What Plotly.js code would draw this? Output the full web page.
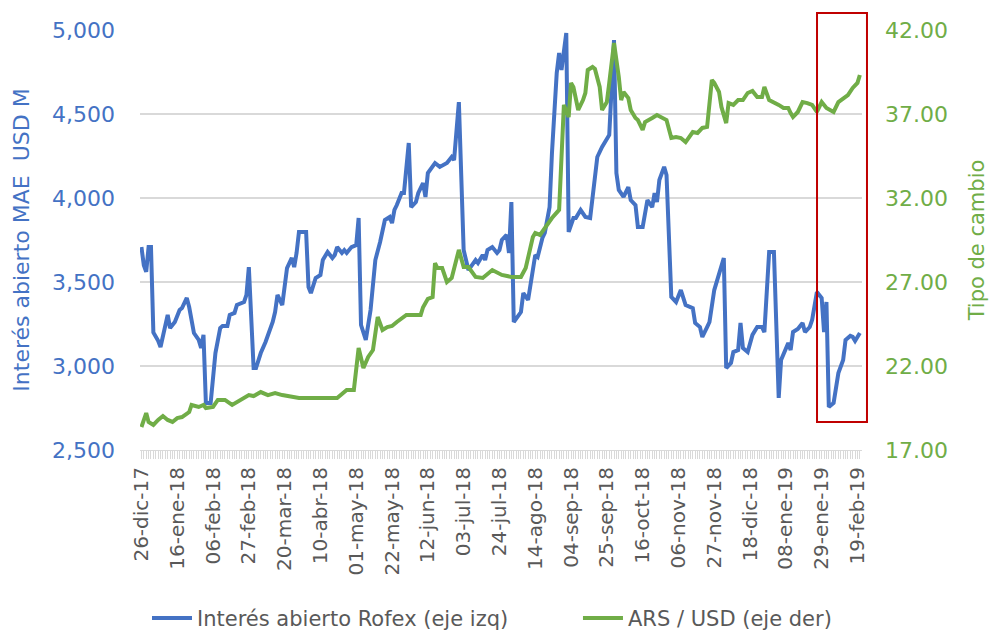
<!DOCTYPE html>
<html>
<head>
<meta charset="utf-8">
<script src="https://cdn.plot.ly/plotly-3.0.1.min.js"></script>
<style>html,body{margin:0;padding:0;background:#fff;}#chart{width:992px;height:636px;}</style>
</head>
<body>
<div id="chart"></div>
<script>
// Business-day index (0 = 26-dic-17) and values
const diasRofex = [0,1,2,3,4,5,7,8,11,12,14,16,17,19,20,22,24,25,26,27,29,31,33,34,36,37,39,40,43,44,45,47,48,50,52,55,56,57,59,60,61,63,64,65,66,69,70,71,73,75,76,78,80,81,82,84,85,86,88,90,91,92,94,96,98,100,102,104,105,106,107,109,110,112,113,115,116,118,119,120,123,125,128,130,131,133,135,137,140,141,143,144,145,147,149,150,151,153,154,155,156,159,160,162,164,165,166,168,169,171,172,174,175,176,178,179,181,182,184,186,188,189,191,193,195,196,198,199,200,202,204,205,207,208,210,211,212,214,215,216,217,219,220,222,224,226,228,231,232,234,235,237,238,240,242,243,244,245,247,248,250,251,252,254,256,258,260,261,263,265,267,268,270,271,272,273,275,277,278,280,281,283,285,286,287,288,290,292,294,295,297,298,299,301];
const interesAbierto = [3708,3600,3560,3708,3708,3200,3150,3113,3304,3226,3262,3333,3345,3405,3351,3196,3155,3107,3185,2780,2780,3077,3226,3238,3238,3304,3316,3363,3381,3423,3589,2988,2988,3077,3143,3262,3321,3423,3363,3494,3583,3643,3589,3673,3798,3798,3470,3434,3524,3542,3631,3679,3643,3661,3708,3673,3690,3673,3708,3720,3881,3244,3155,3333,3631,3738,3869,3887,3851,3929,3958,4030,4030,4327,3946,3976,4030,4089,4006,4149,4208,4185,4208,4244,4226,4571,3690,3571,3631,3613,3661,3631,3690,3708,3673,3690,3750,3780,3673,3976,3262,3321,3434,3393,3554,3661,3649,3762,3792,3946,4268,4744,4863,4762,4982,3798,3881,3881,3929,3887,3881,4006,4244,4304,4345,4375,4940,4149,4048,4006,4065,3988,3958,3827,3827,3911,3988,3946,4030,3976,4107,4185,4137,3411,3381,3452,3363,3345,3256,3232,3173,3232,3262,3452,3554,3589,3643,2988,3018,3083,3095,3256,3107,3083,3185,3232,3232,3202,3679,3679,2810,3036,3107,3137,3095,3202,3220,3256,3202,3232,3274,3440,3405,3202,3381,2756,2780,2958,3036,3155,3179,3173,3149,3196];

const diasTC = [0,2,3,5,7,9,11,13,15,17,20,21,24,26,27,30,32,35,38,40,43,45,47,50,53,56,59,66,75,82,86,89,91,93,95,97,99,101,103,105,107,109,111,114,117,118,120,122,123,124,126,128,130,133,135,137,140,143,147,151,155,159,161,164,165,167,169,172,175,176,177,179,180,181,183,185,186,187,189,190,192,193,195,196,198,200,201,202,204,205,207,208,210,211,213,214,216,218,220,222,224,226,228,231,233,235,237,239,240,242,243,245,246,248,250,252,254,256,258,260,261,263,265,267,269,271,272,273,275,277,279,281,283,285,287,290,292,294,296,298,300,301];
const tipoCambio = [18.37,19.20,18.67,18.49,18.79,19.02,18.79,18.67,18.90,18.96,19.26,19.68,19.56,19.68,19.50,19.56,19.98,19.98,19.68,19.86,20.10,20.27,20.21,20.45,20.27,20.39,20.27,20.10,20.10,20.10,20.57,20.57,23.07,21.88,22.54,22.95,24.92,24.14,24.32,24.38,24.62,24.86,25.04,25.04,25.04,25.50,26.00,26.10,28.13,27.83,27.83,27.00,27.24,28.91,27.89,27.89,27.30,27.24,27.71,27.42,27.30,27.30,27.83,29.68,29.92,29.80,30.21,30.81,31.29,34.68,37.54,36.82,38.85,38.60,37.24,37.83,38.25,39.62,39.80,39.68,38.61,37.24,37.71,38.85,41.23,39.20,37.83,38.31,37.95,37.24,36.76,36.64,36.05,36.52,36.64,36.76,36.94,36.82,36.64,35.57,35.63,35.57,35.33,35.93,35.87,36.17,36.23,39.02,38.85,38.31,37.42,36.46,37.65,37.54,37.83,37.83,38.25,38.37,38.01,38.01,38.61,37.83,37.71,37.54,37.36,37.36,37.06,36.82,37.12,37.71,37.65,37.54,37.12,37.71,37.36,37.12,37.71,37.95,38.13,38.55,38.85,39.32];

const etiquetasFecha = ["26-dic-17","16-ene-18","06-feb-18","27-feb-18","20-mar-18","10-abr-18","01-may-18","22-may-18","12-jun-18","03-jul-18","24-jul-18","14-ago-18","04-sep-18","25-sep-18","16-oct-18","06-nov-18","27-nov-18","18-dic-18","08-ene-19","29-ene-19","19-feb-19"];
const pasoEtiqueta = 15; // one label every 15 business days
const posEtiquetas = etiquetasFecha.map((_, k) => k * pasoEtiqueta);

const FONT = 'DejaVu Sans';
const AZUL = '#4472C4', VERDE = '#70AD47', GRIS = '#595959', GRILLA = '#D9D9D9';

const traces = [
  {x: diasRofex, y: interesAbierto, type: 'scatter', mode: 'lines', name: 'Interés abierto Rofex (eje izq)',
   line: {color: AZUL, width: 4, shape: 'linear'}, yaxis: 'y', legend: 'legend'},
  {x: diasTC, y: tipoCambio, type: 'scatter', mode: 'lines', name: 'ARS / USD (eje der)',
   line: {color: VERDE, width: 4, shape: 'linear'}, yaxis: 'y2', legend: 'legend2'}
];

const legendBase = {
  orientation: 'h', xanchor: 'left', y: -0.352, yanchor: 'top',
  font: {family: FONT, size: 21, color: GRIS}, itemwidth: 40, bgcolor: 'rgba(0,0,0,0)'
};

const layout = {
  width: 992, height: 636,
  margin: {l: 140, r: 130, t: 30, b: 186, pad: 0, autoexpand: false},
  paper_bgcolor: '#fff', plot_bgcolor: '#fff',
  font: {family: FONT, color: GRIS},
  showlegend: true,
  xaxis: {
    range: [-0.6, 301.9], tickmode: 'array', tickvals: posEtiquetas, ticktext: etiquetasFecha,
    tickangle: -90, tickfont: {family: FONT, size: 20, color: GRIS},
    showgrid: false, zeroline: false, ticks: 'outside', ticklen: 8, tickcolor: GRILLA, tickwidth: 1,
    showline: true, linecolor: GRILLA, linewidth: 1, automargin: false,
    minor: {dtick: 1, tick0: 0, ticks: 'outside', ticklen: 8, tickcolor: GRILLA, tickwidth: 1, showgrid: false}
  },
  yaxis: {
    range: [2500, 5000], tick0: 2500, dtick: 500, tickformat: ',',
    tickfont: {family: FONT, size: 22, color: AZUL}, automargin: false,
    showgrid: true, gridcolor: GRILLA, gridwidth: 1.3, zeroline: false, ticks: '',
    ticklabelstandoff: 24,
    title: {text: 'Interés abierto MAE\u00a0\u00a0USD M', font: {family: FONT, size: 22, color: AZUL}, standoff: 16}
  },
  yaxis2: {
    overlaying: 'y', side: 'right', range: [17, 42], tick0: 17, dtick: 5, tickformat: '.2f',
    tickfont: {family: FONT, size: 22, color: VERDE}, automargin: false,
    showgrid: false, zeroline: false, ticks: '', ticklabelstandoff: 22,
    title: {text: 'Tipo de cambio', font: {family: FONT, size: 21, color: VERDE}, standoff: 22}
  },
  legend: Object.assign({}, legendBase, {x: 0.0097}),
  legend2: Object.assign({}, legendBase, {x: 0.6066}),
  shapes: [
    {type: 'rect', xref: 'paper', yref: 'paper', x0: 0.9377, x1: 1.0069, y0: 0.0667, y1: 1.0405,
     line: {color: '#C00000', width: 2}, fillcolor: 'rgba(0,0,0,0)', layer: 'above'}
  ]
};

Plotly.newPlot('chart', traces, layout, {staticPlot: true, displayModeBar: false});
</script>
</body>
</html>
